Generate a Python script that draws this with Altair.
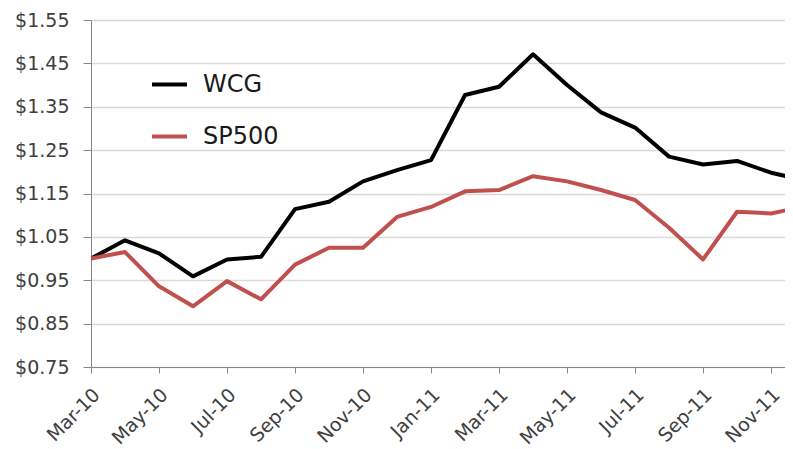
import altair as alt
import pandas as pd

months = ["Mar-10", "Apr-10", "May-10", "Jun-10", "Jul-10", "Aug-10", "Sep-10",
          "Oct-10", "Nov-10", "Dec-10", "Jan-11", "Feb-11", "Mar-11", "Apr-11",
          "May-11", "Jun-11", "Jul-11", "Aug-11", "Sep-11", "Oct-11", "Nov-11", "Dec-11"]
wcg = [1.00, 1.042, 1.012, 0.959, 0.998, 1.004, 1.114, 1.131, 1.178, 1.204, 1.227,
       1.377, 1.396, 1.471, 1.400, 1.337, 1.302, 1.235, 1.217, 1.225, 1.198, 1.180]
sp500 = [1.00, 1.015, 0.936, 0.890, 0.948, 0.906, 0.986, 1.025, 1.025, 1.096, 1.119,
         1.155, 1.158, 1.190, 1.178, 1.158, 1.135, 1.071, 0.998, 1.108, 1.104, 1.121]
series_names = ["WCG", "SP500"]
series_colors = ["#000000", "#C0504D"]
y_ticks = [0.75, 0.85, 0.95, 1.05, 1.15, 1.25, 1.35, 1.45, 1.55]

rows = []
for i, m in enumerate(months):
    rows.append({"idx": i, "month": m, "series": "WCG", "value": wcg[i]})
    rows.append({"idx": i, "month": m, "series": "SP500", "value": sp500[i]})
df = pd.DataFrame(rows)

label_expr = "[" + ",".join("'" + m + "'" for m in months) + "][datum.value]"
FONT = "DejaVu Sans"

chart = alt.Chart(df).mark_line(strokeWidth=4, clip=True, strokeJoin="round").encode(
    x=alt.X("idx:Q",
            scale=alt.Scale(domain=[0, 20.41], nice=False, zero=False),
            axis=alt.Axis(values=list(range(0, 21, 2)), labelExpr=label_expr,
                          labelAngle=-45, labelAlign="right", labelBaseline="top",
                          labelPadding=12, labelOffset=-1, tickSize=6, grid=False,
                          title=None, domainColor="#868686", tickColor="#868686",
                          labelFont=FONT, labelFontSize=19, labelColor="#404040",
                          labelOverlap=False, labelFlush=False)),
    y=alt.Y("value:Q",
            scale=alt.Scale(domain=[0.75, 1.55], nice=False, zero=False),
            axis=alt.Axis(values=y_ticks, format="$.2f", tickSize=8, labelPadding=14,
                          title=None, grid=True, gridColor="#d9d9d9", gridWidth=1.5,
                          domainColor="#868686", tickColor="#868686",
                          labelFont=FONT, labelFontSize=19, labelColor="#404040")),
    color=alt.Color("series:N",
                    scale=alt.Scale(domain=series_names, range=series_colors),
                    sort=series_names,
                    legend=alt.Legend(orient="none", legendX=59, legendY=45, title=None,
                                      symbolType="stroke", symbolSize=1225,
                                      symbolStrokeWidth=4, labelOffset=14,
                                      labelFont=FONT, labelFontSize=24,
                                      labelColor="#1a1a1a", rowPadding=20, padding=0)),
    detail="series:N",
).properties(
    width=694, height=347,
    autosize=alt.AutoSizeParams(type="none"),
    padding={"left": 83, "top": 12, "right": 0, "bottom": 80},
).configure_view(stroke=None)

chart.save("out.html", embed_options={"renderer": "svg", "actions": False})
